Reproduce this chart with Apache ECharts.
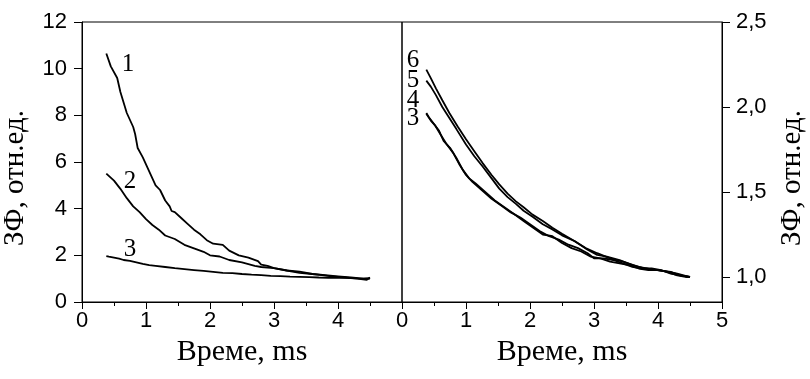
<!DOCTYPE html>
<html>
<head>
<meta charset="utf-8">
<script src="https://cdn.jsdelivr.net/npm/echarts@6/dist/echarts.min.js"></script>
<style>html,body{margin:0;padding:0;background:#fff;}#c{width:810px;height:379px;}</style>
</head>
<body>
<div id="c"></div>
<script>
// Left panel x-axis tick labels (5 is shared with right panel's 0)
const xTicksLeft = [0, 1, 2, 3, 4];
const xTicksRight = [0, 1, 2, 3, 4, 5];
const yTicksLeft = [0, 2, 4, 6, 8, 10, 12];
const yTicksRight = [1.0, 1.5, 2.0, 2.5];

// Curve 1 (left panel)
const curve1 = [
  [0.38,10.65],[0.45,10.1],[0.55,9.6],[0.6,9.0],[0.7,8.1],[0.8,7.5],[0.83,7.2],[0.87,6.6],
  [0.95,6.2],[1.05,5.6],[1.15,5.0],[1.22,4.8],[1.3,4.35],[1.37,4.1],[1.4,3.9],[1.45,3.85],
  [1.55,3.6],[1.65,3.35],[1.75,3.1],[1.85,2.9],[1.95,2.65],[2.05,2.5],[2.2,2.45],[2.3,2.2],
  [2.45,2.0],[2.6,1.9],[2.75,1.75],[2.8,1.6],[2.9,1.55],[3.0,1.45],[3.2,1.35],[3.4,1.25],
  [3.6,1.2],[3.75,1.15],[3.9,1.1],[4.1,1.05],[4.3,1.0],[4.45,0.95],[4.5,1.05]
];
// Curve 2 (left panel)
const curve2 = [
  [0.38,5.5],[0.5,5.2],[0.6,4.85],[0.7,4.45],[0.8,4.1],[0.9,3.85],[1.0,3.55],[1.1,3.3],
  [1.2,3.1],[1.3,2.85],[1.45,2.7],[1.6,2.45],[1.75,2.3],[1.9,2.15],[2.0,2.0],[2.15,1.95],
  [2.3,1.8],[2.5,1.7],[2.7,1.55],[2.8,1.5],[3.0,1.45],[3.2,1.35],[3.4,1.3],[3.6,1.2],
  [3.8,1.15],[4.0,1.1],[4.2,1.05],[4.4,1.0],[4.5,1.02]
];
// Curve 3 (shown in both panels)
const curve3 = [
  [0.38,1.965],[0.42,1.94],[0.5,1.9],[0.58,1.86],[0.65,1.8],[0.75,1.76],[0.85,1.7],[0.95,1.63],
  [1.05,1.58],[1.15,1.55],[1.3,1.5],[1.45,1.45],[1.6,1.41],[1.75,1.37],[1.9,1.33],[2.05,1.29],
  [2.2,1.25],[2.35,1.24],[2.5,1.2],[2.65,1.17],[2.8,1.15],[2.95,1.12],[3.1,1.11],[3.25,1.09],
  [3.4,1.08],[3.55,1.07],[3.7,1.05],[3.85,1.04],[4.0,1.04],[4.15,1.03],[4.3,1.01],[4.45,1.0],[4.5,1.0]
];
// Curve 4 (right panel)
const curve4 = [
  [0.38,1.96],[0.45,1.92],[0.52,1.89],[0.6,1.84],[0.7,1.78],[0.8,1.73],[0.9,1.66],[1.0,1.6],
  [1.1,1.56],[1.25,1.51],[1.4,1.46],[1.55,1.42],[1.7,1.38],[1.85,1.35],[2.0,1.31],[2.15,1.27],
  [2.3,1.24],[2.45,1.22],[2.6,1.19],[2.75,1.17],[2.9,1.14],[3.0,1.11],[3.15,1.11],[3.3,1.1],
  [3.45,1.08],[3.6,1.06],[3.75,1.05],[3.9,1.05],[4.05,1.04],[4.2,1.02],[4.35,1.01],[4.5,1.0]
];
// Curve 5 (right panel)
const curve5 = [
  [0.38,2.155],[0.45,2.12],[0.53,2.07],[0.63,2.0],[0.74,1.935],[0.85,1.87],[1.0,1.78],[1.13,1.71],
  [1.26,1.65],[1.4,1.58],[1.52,1.52],[1.65,1.47],[1.78,1.43],[1.9,1.39],[2.04,1.355],[2.2,1.31],
  [2.35,1.28],[2.5,1.245],[2.7,1.21],[2.9,1.16],[3.05,1.13],[3.2,1.12],[3.4,1.1],[3.6,1.07],
  [3.8,1.05],[4.0,1.04],[4.2,1.03],[4.35,1.01],[4.5,1.0]
];
// Curve 6 (right panel)
const curve6 = [
  [0.38,2.22],[0.45,2.17],[0.53,2.11],[0.63,2.04],[0.74,1.965],[0.87,1.885],[1.0,1.81],[1.13,1.74],
  [1.26,1.67],[1.4,1.6],[1.52,1.545],[1.65,1.49],[1.78,1.445],[1.9,1.41],[2.04,1.367],[2.2,1.33],
  [2.35,1.29],[2.5,1.255],[2.7,1.21],[2.87,1.17],[3.05,1.14],[3.25,1.11],[3.45,1.09],[3.7,1.06],
  [3.9,1.045],[4.1,1.035],[4.3,1.02],[4.5,1.0]
];

const xTitle = 'Време, ms';
const yTitle = 'ЗФ, отн.ед.';

const SANS = '"Liberation Sans", Arial, sans-serif';
const SERIF = '"Liberation Serif", "Times New Roman", serif';

const chart = echarts.init(document.getElementById('c'), null, {renderer: 'canvas'});

const axisLineStyle = {color: '#000', width: 1};
const tickLabel = {color: '#000', fontFamily: SANS, fontSize: 22};
const xNameStyle = {fontFamily: SERIF, fontSize: 30, color: '#000'};
const yNameStyle = {fontFamily: SERIF, fontSize: 29, color: '#000', padding: [0, 32, 0, 0]};

function lineSeries(name, data, idx, labelText, labelCoord) {
  return {
    name, type: 'line', data, xAxisIndex: idx, yAxisIndex: idx,
    showSymbol: false, symbol: 'none', smooth: false,
    lineStyle: {color: '#000', width: 1.8},
    animation: false,
    markPoint: labelText ? {
      symbol: 'circle', symbolSize: 0, animation: false,
      data: [{coord: labelCoord, value: labelText}],
      label: {show: true, position: 'inside', formatter: labelText, color: '#000',
              fontFamily: SERIF, fontSize: 25}
    } : undefined
  };
}

function xAxisCfg(gridIndex, labels) {
  return {
    gridIndex, type: 'value', min: 0, max: 5, interval: 1,
    name: xTitle, nameLocation: 'middle', nameGap: 33, nameTextStyle: xNameStyle,
    axisLine: {show: true, onZero: false, lineStyle: axisLineStyle},
    axisTick: {show: true, inside: false, length: 7, lineStyle: axisLineStyle},
    minorTick: {show: true, splitNumber: 2, length: 4, lineStyle: axisLineStyle},
    splitLine: {show: false}, minorSplitLine: {show: false},
    axisLabel: Object.assign({margin: 8, customValues: labels, formatter: v => String(v)}, tickLabel)
  };
}

const gridBase = {top: 22, width: 320, height: 280, show: true, borderColor: '#000', borderWidth: 1,
  backgroundColor: 'transparent', containLabel: false, outerBoundsMode: 'none'};

const option = {
  backgroundColor: '#fff',
  animation: false,
  grid: [
    Object.assign({left: 82}, gridBase),
    Object.assign({left: 402}, gridBase)
  ],
  xAxis: [xAxisCfg(0, xTicksLeft), xAxisCfg(1, xTicksRight)],
  yAxis: [
    {
      gridIndex: 0, type: 'value', min: 0, max: 12, interval: 2, position: 'left',
      name: yTitle, nameLocation: 'middle', nameGap: 52, nameRotate: 90, nameTextStyle: yNameStyle,
      axisLine: {show: true, onZero: false, lineStyle: axisLineStyle},
      axisTick: {show: true, inside: false, length: 8, lineStyle: axisLineStyle},
      splitLine: {show: false},
      axisLabel: Object.assign({margin: 15, customValues: yTicksLeft, formatter: v => String(v)}, tickLabel)
    },
    {
      gridIndex: 1, type: 'value', min: 0.853, max: 2.5, position: 'right',
      name: yTitle, nameLocation: 'middle', nameGap: 56, nameRotate: 90, nameTextStyle: yNameStyle,
      axisLine: {show: true, onZero: false, lineStyle: axisLineStyle},
      axisTick: {show: true, inside: false, length: 8, lineStyle: axisLineStyle, customValues: yTicksRight},
      splitLine: {show: false},
      axisLabel: Object.assign({margin: 14, customValues: yTicksRight,
        formatter: v => v.toFixed(1).replace('.', ',')}, tickLabel)
    }
  ],
  series: [
    lineSeries('1', curve1, 0, '1', [0.72, 10.2]),
    lineSeries('2', curve2, 0, '2', [0.75, 5.15]),
    lineSeries('3L', curve3, 0, '3', [0.75, 2.25]),
    lineSeries('3R', curve3, 1, null),
    lineSeries('4', curve4, 1, null),
    lineSeries('5', curve5, 1, null),
    lineSeries('6', curve6, 1, null),
    {
      type: 'scatter', xAxisIndex: 1, yAxisIndex: 1, data: [], symbolSize: 0,
      markPoint: {
        symbol: 'circle', symbolSize: 0, animation: false,
        label: {show: true, position: 'inside', color: '#000', fontFamily: SERIF, fontSize: 25,
                formatter: p => p.name},
        data: [
          {name: '6', coord: [0.17, 2.275]},
          {name: '5', coord: [0.17, 2.155]},
          {name: '4', coord: [0.17, 2.04]},
          {name: '3', coord: [0.17, 1.93]}
        ]
      }
    }
  ]
};
chart.setOption(option);
</script>
</body>
</html>
